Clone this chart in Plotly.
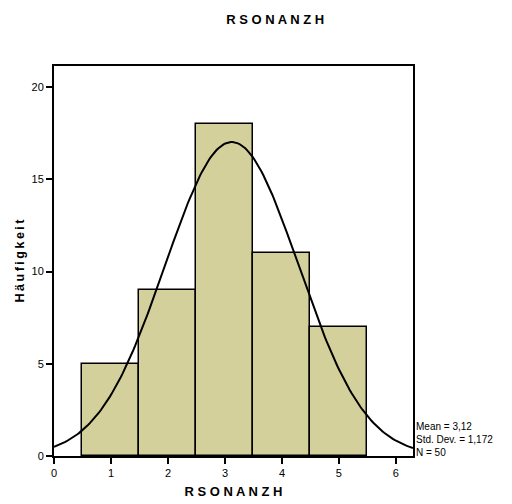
import numpy as np
import plotly.graph_objects as go

# ── Data ───────────────────────────────────────────────────────────────────────
BIN_CENTERS = [1, 2, 3, 4, 5]
COUNTS = [5, 9, 18, 11, 7]
MEAN = 3.12
STD_DEV = 1.172
N = 50
BIN_WIDTH = 1

X_TICKS = [0, 1, 2, 3, 4, 5, 6]
Y_TICKS = [0, 5, 10, 15, 20]

TITLE = "R S O N A N Z H"
Y_TITLE = "\u2009".join("Häufigkeit")

# normal curve fitted from the stated mean / sd, scaled to counts
curve_x = np.linspace(0, 6.3, 200)
curve_y = N * BIN_WIDTH / (STD_DEV * np.sqrt(2 * np.pi)) * np.exp(-0.5 * ((curve_x - MEAN) / STD_DEV) ** 2)

fig = go.Figure()
fig.add_trace(go.Bar(
    x=BIN_CENTERS, y=COUNTS, width=BIN_WIDTH,
    marker=dict(color="#d4d09c", line=dict(color="black", width=1.5)),
    showlegend=False,
))
fig.add_trace(go.Scatter(
    x=curve_x, y=curve_y, mode="lines",
    line=dict(color="black", width=2), showlegend=False,
))

# page body has an 8px margin, so the figure is 8px smaller and shifted
fig.update_layout(
    width=504, height=496,
    paper_bgcolor="white", plot_bgcolor="white",
    margin=dict(l=46, r=99, t=58, b=48),
    font=dict(family="Liberation Sans, Arial", size=11, color="black"),
    title=dict(text=f"<b>{TITLE}</b>", x=0.53, xanchor="center", y=0.976, yanchor="middle",
               font=dict(size=13)),
    bargap=0,
)
fig.update_xaxes(
    range=[0, 6.3], tickvals=X_TICKS, ticks="outside", ticklen=6, tickwidth=1.5,
    tickcolor="black", showline=True, linecolor="black", linewidth=2, mirror=True,
    showgrid=False, zeroline=False, automargin=False, tickfont=dict(size=11),
    title=dict(text=f"<b>{TITLE}</b>", font=dict(size=13), standoff=9),
)
fig.update_yaxes(
    range=[0, 21.14], tickvals=Y_TICKS, ticks="outside", ticklen=6, tickwidth=1.5,
    tickcolor="black", showline=True, linecolor="black", linewidth=2, mirror=True,
    showgrid=False, zeroline=False, automargin=False, tickfont=dict(size=11),
    title=dict(text=f"<b>{Y_TITLE}</b>", font=dict(size=12.5), standoff=4),
)

mean_txt = f"{MEAN:.2f}".replace(".", ",")
sd_txt = f"{STD_DEV:.3f}".replace(".", ",")
fig.add_annotation(
    xref="paper", yref="paper", x=1.003, y=-0.01, xanchor="left", yanchor="bottom",
    align="left", showarrow=False, font=dict(size=10),
    text=f"Mean = {mean_txt}<br>Std. Dev. = {sd_txt}<br>N = {N}",
)

fig.write_html("out.html")
